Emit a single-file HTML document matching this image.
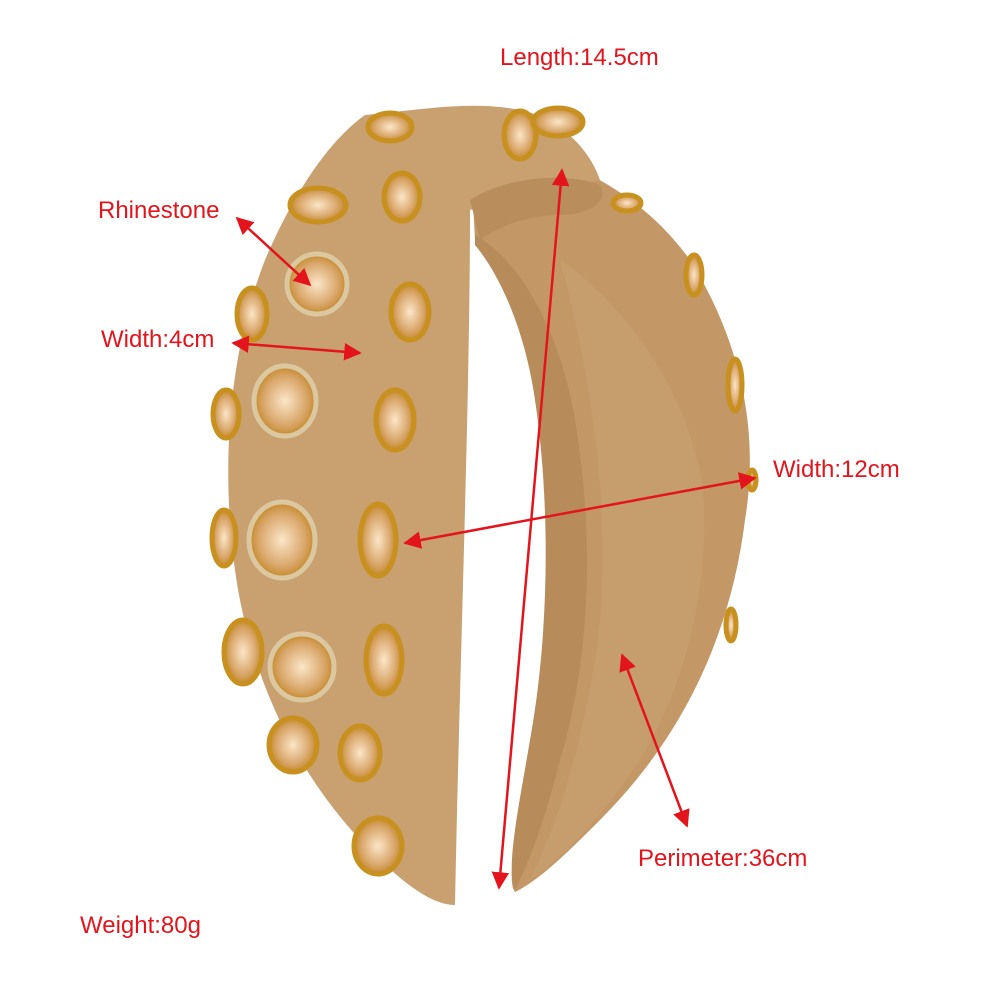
<!DOCTYPE html>
<html><head><meta charset="utf-8"><style>
html,body{margin:0;padding:0;background:#fff}
svg{display:block}
text{font-family:"Liberation Sans",sans-serif;fill:#e3141c;font-size:24px}
</style></head><body>
<svg width="1000" height="1000" viewBox="0 0 1000 1000" xmlns="http://www.w3.org/2000/svg">
<defs>
<marker id="a" viewBox="0 0 10 10" refX="9" refY="5" markerWidth="7" markerHeight="7" orient="auto-start-reverse"><path d="M0,0L10,5L0,10z" fill="#e3141c"/></marker>
<radialGradient id="g"><stop offset="0" stop-color="#fbe6c8"/><stop offset="0.7" stop-color="#d9a66a"/><stop offset="1" stop-color="#c48a2a"/></radialGradient>
</defs>
<path d="M470,140 C560,150 640,190 690,260 C740,340 760,430 745,520 C730,640 680,740 600,820 C570,850 540,880 515,892 C505,880 520,820 535,760 C560,650 560,520 545,420 C530,330 505,270 475,240 Z" fill="#c39866"/>
<path d="M475,235 C520,260 560,330 575,420 C595,540 590,660 560,760 C545,820 530,860 515,890 C505,870 520,800 530,740 C550,630 550,500 535,400 C525,330 500,275 475,245 Z" fill="#b88c5a"/>
<path d="M560,260 C620,300 680,380 700,470 C715,560 690,680 640,760 C600,820 560,860 530,880 C560,820 590,720 600,620 C610,500 590,370 560,260 Z" fill="#c8a070" opacity="0.7"/>
<path d="M365,115 C420,110 470,100 520,110 C560,118 590,150 600,180 C560,190 500,200 470,210 C470,400 460,650 455,905 C430,905 400,880 370,850 C300,780 250,680 235,570 C220,460 230,350 265,260 C295,190 330,140 365,115 Z" fill="#c9a070"/>
<path d="M470,200 C500,180 560,170 600,185 C610,200 590,215 560,215 C530,215 500,225 480,240 Z" fill="#b98d5c"/>
<g stroke="#c8901e" stroke-width="5" fill="url(#g)">
<ellipse cx="390" cy="127" rx="22" ry="14"/>
<ellipse cx="520" cy="135" rx="16" ry="24"/>
<ellipse cx="558" cy="122" rx="25" ry="14"/>
<ellipse cx="402" cy="197" rx="18" ry="24"/>
<ellipse cx="318" cy="205" rx="28" ry="17"/>
<ellipse cx="317" cy="284" rx="30" ry="30" stroke="#dcc8a0"/>
<ellipse cx="252" cy="314" rx="15" ry="26"/>
<ellipse cx="410" cy="312" rx="19" ry="28"/>
<ellipse cx="285" cy="401" rx="31" ry="35" stroke="#dcc8a0"/>
<ellipse cx="395" cy="420" rx="19" ry="30"/>
<ellipse cx="226" cy="414" rx="13" ry="24"/>
<ellipse cx="282" cy="540" rx="33" ry="38" stroke="#dcc8a0"/>
<ellipse cx="378" cy="540" rx="18" ry="36"/>
<ellipse cx="224" cy="538" rx="12" ry="28"/>
<ellipse cx="302" cy="667" rx="32" ry="33" stroke="#dcc8a0"/>
<ellipse cx="384" cy="660" rx="18" ry="34"/>
<ellipse cx="243" cy="652" rx="19" ry="32"/>
<ellipse cx="293" cy="745" rx="24" ry="27"/>
<ellipse cx="360" cy="753" rx="20" ry="27"/>
<ellipse cx="378" cy="846" rx="24" ry="28"/>
<ellipse cx="694" cy="275" rx="8" ry="20"/>
<ellipse cx="735" cy="385" rx="7" ry="26"/>
<ellipse cx="627" cy="203" rx="14" ry="8"/>
<ellipse cx="752" cy="480" rx="4" ry="10"/>
<ellipse cx="731" cy="625" rx="5" ry="16"/>
</g>
<g stroke="#e3141c" stroke-width="2.5" fill="none" marker-start="url(#a)" marker-end="url(#a)">
<line x1="237" y1="218" x2="310" y2="285"/>
<line x1="233" y1="343" x2="360" y2="353"/>
<line x1="562" y1="170" x2="499" y2="888"/>
<line x1="405" y1="543" x2="755" y2="478"/>
<line x1="622" y1="655" x2="687" y2="826"/>
</g>
<text x="500" y="65">Length:14.5cm</text>
<text x="98" y="218">Rhinestone</text>
<text x="101" y="347">Width:4cm</text>
<text x="773" y="477">Width:12cm</text>
<text x="638" y="866">Perimeter:36cm</text>
<text x="80" y="933">Weight:80g</text>
</svg>
</body></html>
